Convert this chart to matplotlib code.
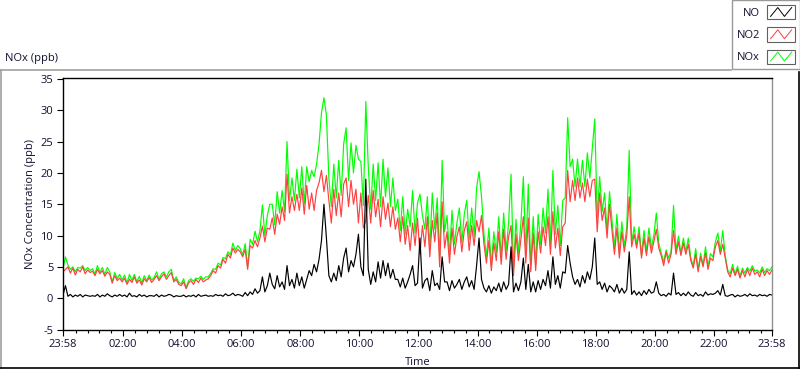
import numpy as np
import matplotlib
matplotlib.use('Agg')
import matplotlib.pyplot as plt
from matplotlib.lines import Line2D
from matplotlib.patches import Rectangle
from matplotlib.legend_handler import HandlerLine2D

plt.rcParams['font.family'] = ['Open Sans', 'DejaVu Sans']
plt.rcParams['axes.unicode_minus'] = False

# samples every 5 min, starting 23:58 of the previous day
step_min = 5
start_min = -2

# NO2 (ppb), one row per hour
no2 = [
    4.2, 4.6, 5.0, 4.0, 4.8, 3.7, 4.6, 4.2, 5.0, 3.9, 4.5, 4.1,
    4.3, 3.6, 4.6, 3.9, 4.4, 3.5, 4.2, 3.8, 2.4, 3.6, 2.8, 3.2,
    2.6, 3.2, 2.2, 3.0, 2.5, 3.4, 2.4, 2.9, 2.1, 3.1, 2.6, 3.3,
    2.5, 3.0, 3.6, 2.8, 3.4, 3.9, 3.0, 3.6, 4.1, 2.6, 3.0, 2.2,
    2.0, 2.6, 1.5, 2.4, 2.8, 2.2, 3.0, 2.5, 3.2, 2.6, 2.9, 3.1,
    3.6, 4.4, 4.0, 5.2, 4.8, 6.2, 5.6, 7.0, 6.4, 8.0, 7.2, 7.8,
    7.4, 6.6, 7.8, 4.6, 8.4, 8.0, 9.2, 8.2, 9.6, 11.5, 9.0, 11.2,
    11.0, 12.8, 10.2, 13.4, 11.8, 14.6, 12.4, 19.8, 13.6, 16.2, 14.0, 16.6,
    14.0, 17.6, 13.4, 18.0, 14.2, 16.8, 14.0, 17.2, 18.4, 20.4, 17.0, 19.6,
    15.6, 12.0, 17.4, 13.2, 16.8, 13.0, 18.2, 19.2, 14.6, 18.8, 15.0, 17.4,
    12.0, 16.8, 11.2, 12.4, 16.4, 12.0, 17.2, 13.0, 15.8, 11.4, 16.2, 12.6,
    15.2, 11.4, 14.6, 11.0, 12.8, 9.0, 13.0, 8.6, 11.6, 7.6, 12.0, 8.4,
    12.8, 7.0, 11.6, 8.2, 13.0, 6.6, 12.4, 9.0, 13.6, 5.0, 15.4, 8.0,
    10.6, 5.6, 11.2, 7.0, 9.8, 11.4, 7.4, 10.8, 12.2, 7.6, 11.6, 8.4,
    12.4, 10.6, 13.2, 8.6, 5.6, 9.2, 4.4, 8.8, 6.0, 10.6, 5.4, 11.0,
    6.2, 9.8, 11.6, 3.6, 10.2, 6.0, 9.4, 13.0, 5.6, 12.8, 4.2, 10.4,
    4.4, 10.6, 7.2, 11.4, 8.4, 13.0, 7.0, 13.8, 8.0, 11.2, 6.8, 11.4,
    12.0, 20.4, 15.4, 18.8, 15.6, 19.2, 16.0, 18.4, 15.4, 19.0, 16.2, 18.8,
    19.0, 10.6, 16.8, 12.4, 14.4, 9.6, 15.0, 10.8, 7.0, 11.2, 6.4, 10.6,
    7.4, 10.0, 16.2, 8.2, 10.2, 8.0, 10.4, 6.4, 9.6, 6.8, 9.8, 7.2,
    9.0, 11.0, 8.0, 6.8, 5.2, 7.4, 5.6, 7.0, 10.8, 7.0, 9.0, 6.8,
    8.8, 7.0, 8.6, 6.0, 4.8, 7.0, 4.2, 6.6, 5.0, 7.2, 4.6, 6.4,
    6.0, 8.2, 9.2, 7.0, 8.6, 6.4, 4.2, 3.4, 4.8, 3.6, 4.6, 3.2,
    4.4, 3.4, 4.6, 3.6, 4.8, 3.8, 4.2, 3.4, 4.6, 3.6, 4.4, 3.8, 4.5,
]

# NO (ppb), same times
no = [
    0.5, 2.0, 0.3, 0.6, 0.2, 0.5, 0.3, 0.6, 0.2, 0.5, 0.4, 0.3,
    0.4, 0.3, 0.6, 0.2, 0.5, 0.3, 0.7, 0.4, 0.2, 0.5, 0.3, 0.6,
    0.3, 0.5, 0.2, 0.8, 0.3, 0.4, 0.2, 0.6, 0.3, 0.5, 0.2, 0.4,
    0.4, 0.3, 0.6, 0.2, 0.5, 0.3, 0.4, 0.6, 0.5, 0.2, 0.4, 0.3,
    0.3, 0.5, 0.2, 0.4, 0.3, 0.5, 0.2, 0.6, 0.3, 0.4, 0.5, 0.3,
    0.4, 0.3, 0.6, 0.4, 0.5, 0.3, 0.7, 0.4, 0.5, 0.8, 0.4, 0.6,
    0.5, 0.3, 0.9, 0.4, 1.0, 0.6, 1.5, 0.8, 1.2, 3.4, 1.0, 2.0,
    4.0, 2.2, 1.5, 3.6, 1.8, 2.6, 1.4, 5.2, 2.0, 3.0, 1.6, 4.0,
    2.0, 3.4, 1.6, 3.0, 4.4, 3.6, 5.4, 4.2, 6.2, 9.2, 15.0, 9.6,
    3.6, 2.6, 4.0, 2.8, 5.2, 3.4, 6.4, 8.0, 4.2, 6.0, 5.0, 7.0,
    10.2, 5.0, 3.6, 19.0, 4.6, 2.2, 4.2, 2.6, 5.8, 3.2, 6.0, 3.6,
    5.6, 3.2, 4.6, 3.0, 3.0, 1.8, 3.2, 1.6, 2.6, 3.8, 5.2, 2.0,
    2.4, 9.6, 1.6, 2.8, 3.2, 1.2, 4.4, 2.0, 2.4, 1.4, 6.6, 2.6,
    2.6, 1.2, 2.8, 1.6, 2.2, 3.0, 1.4, 2.6, 3.4, 1.8, 2.8, 1.4,
    5.2, 9.6, 3.0, 1.6, 1.0, 2.0, 0.8, 1.8, 1.2, 2.4, 1.0, 2.6,
    1.4, 2.2, 8.2, 1.0, 2.4, 1.2, 2.6, 6.4, 1.4, 5.4, 1.0, 2.6,
    1.0, 2.8, 1.4, 3.0, 2.0, 4.4, 1.6, 6.6, 2.2, 3.6, 1.6, 4.2,
    4.0, 8.4, 5.6, 3.4, 2.2, 3.0, 1.8, 3.6, 2.4, 4.2, 3.0, 5.0,
    9.6, 2.2, 2.6, 1.4, 2.4, 1.0, 2.0, 1.6, 1.0, 2.2, 0.8, 1.6,
    0.8, 1.4, 7.4, 0.6, 1.2, 0.5, 1.0, 0.4, 1.2, 0.6, 1.4, 0.8,
    1.0, 2.6, 0.8, 0.4, 0.6, 0.3, 0.8, 0.5, 4.0, 0.6, 0.9, 0.4,
    0.8, 0.4, 1.0, 0.5, 0.3, 0.9, 0.4, 0.6, 0.3, 1.0, 0.5, 0.7,
    0.6, 0.8, 1.2, 0.5, 2.2, 0.4, 0.3, 0.5, 0.6, 0.2, 0.5, 0.3,
    0.4, 0.6, 0.3, 0.7, 0.4, 0.5, 0.3, 0.6, 0.4, 0.5, 0.3, 0.6, 0.5,
]

xtick_hours = [-2 / 60, 2, 4, 6, 8, 10, 12, 14, 16, 18, 20, 22, 1438 / 60]
xtick_labels = ['23:58', '02:00', '04:00', '06:00', '08:00', '10:00', '12:00',
                '14:00', '16:00', '18:00', '20:00', '22:00', '23:58']
yticks = [-5, 0, 5, 10, 15, 20, 25, 30, 35]


class ZigzagHandler(HandlerLine2D):
    # LabVIEW style legend sample: a little framed box with a zigzag
    def create_artists(self, legend, orig_handle, xdescent, ydescent,
                       width, height, fontsize, trans):
        x0, y0 = -xdescent, -ydescent
        box = Rectangle((x0, y0), width, height, facecolor='white',
                        edgecolor='#606060', lw=0.8, transform=trans)
        fx = np.array([0.12, 0.38, 0.62, 0.88])
        fy = np.array([0.2, 0.82, 0.2, 0.82])
        zz = Line2D(x0 + fx * width, y0 + fy * height,
                    color=orig_handle.get_color(), lw=0.7, transform=trans)
        return [box, zz]


def grafico():
    t = (start_min + step_min * np.arange(len(no2))) / 60.0
    no2_a = np.array(no2)
    no_a = np.array(no)
    nox_a = no_a + no2_a

    fig = plt.figure(figsize=(8, 3.69), dpi=100)
    ax = fig.add_axes([63 / 800, 1 - 329.5 / 369, 709 / 800, 251.5 / 369])

    l_nox, = ax.plot(t, nox_a, color='#00ff00', lw=0.85)
    l_no2, = ax.plot(t, no2_a, color='#ff4040', lw=0.85)
    l_no, = ax.plot(t, no_a, color='black', lw=0.85)

    ax.set_xlim(xtick_hours[0], xtick_hours[-1])
    ax.set_ylim(-5, 35.15)
    ax.set_xticks(xtick_hours)
    ax.set_xticklabels(xtick_labels)
    ax.set_xticks(np.arange(0.4, 24, 0.4), minor=True)
    ax.set_yticks(yticks)
    ax.tick_params(axis='both', which='major', length=4, width=0.8,
                   labelsize=8, colors='black', labelcolor='#101030', pad=3)
    ax.tick_params(axis='x', which='minor', length=2.5, width=0.8)
    for s in ['top', 'left', 'bottom']:
        ax.spines[s].set_color('black')
        ax.spines[s].set_linewidth(1.0)
    ax.spines['right'].set_color('#909090')
    ax.spines['right'].set_linewidth(1.0)

    ax.set_xlabel('Time', fontsize=8, labelpad=5, color='#101030')
    ax.set_ylabel('NOx Concentration (ppb)', fontsize=8, labelpad=3, color='#101030')

    fig.text(5 / 800, 1 - 59 / 369, 'NOx (ppb)', fontsize=8, va='center', color='#101030')

    # panel frame
    fig.add_artist(Line2D([0, 731 / 800], [1 - 69.5 / 369] * 2, color='#a0a0a0', lw=1.2))
    fig.add_artist(Line2D([0.5 / 800] * 2, [1 - 69.5 / 369, 1 - 367.5 / 369], color='#a0a0a0', lw=1.2))
    fig.add_artist(Line2D([0, 1], [1 - 367.5 / 369] * 2, color='black', lw=1.2))
    fig.add_artist(Line2D([799.3 / 800] * 2, [1 - 72 / 369, 1 - 367.5 / 369], color='black', lw=1.2))

    leg = fig.legend([l_no, l_no2, l_nox], ['NO', 'NO2', 'NOx'],
                     loc='upper right', bbox_to_anchor=(1.0, 1.0),
                     markerfirst=False, fontsize=8, frameon=True, fancybox=False,
                     handlelength=2.5, handleheight=1.6, labelspacing=0.72,
                     handletextpad=0.65, borderpad=0.45, borderaxespad=0.0,
                     handler_map={Line2D: ZigzagHandler()})
    leg.get_frame().set_edgecolor('#808080')
    leg.get_frame().set_linewidth(1.0)
    for txt in leg.get_texts():
        txt.set_color('#101030')

    fig.savefig('out.png', dpi=100)


grafico()
